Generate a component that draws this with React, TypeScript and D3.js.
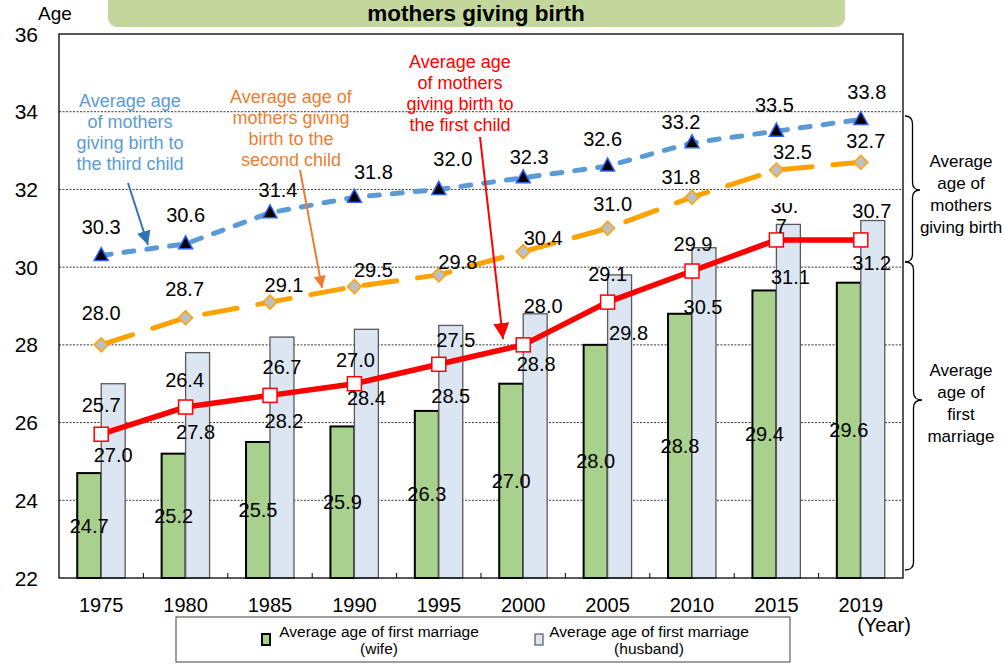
import React from "react";
import * as d3 from "d3";

const years = ["1975", "1980", "1985", "1990", "1995", "2000", "2005", "2010", "2015", "2019"];
const wifeMarriage = [24.7, 25.2, 25.5, 25.9, 26.3, 27.0, 28.0, 28.8, 29.4, 29.6];
const husbandMarriage = [27.0, 27.8, 28.2, 28.4, 28.5, 28.8, 29.8, 30.5, 31.1, 31.2];
const firstChild = [25.7, 26.4, 26.7, 27.0, 27.5, 28.0, 29.1, 29.9, 30.7, 30.7];
const secondChild = [28.0, 28.7, 29.1, 29.5, 29.8, 30.4, 31.0, 31.8, 32.5, 32.7];
const thirdChild = [30.3, 30.6, 31.4, 31.8, 32.0, 32.3, 32.6, 33.2, 33.5, 33.8];
const yTicks = [22, 24, 26, 28, 30, 32, 34, 36];

// label offsets (px) relative to their point
const firstOff = [[0, -29], [-1, -27], [12, -28], [1, -24], [17, -24], [20, -39], [0, -28], [1, -27], [8, -34], [11, -29]];
const husbandOff = [[0, 71], [-2, 79], [2, 84], [0, 69], [0, 71], [1, 50], [9, 58], [-1, 59], [2, 53], [-1, 42]];
const secondOff = [[0, -32], [-1, -29], [14, -17], [19, -17], [19, -13], [20, -14], [5, -24], [-11, -20], [16, -18], [5, -21]];
const thirdOff = [[0, -28], [0, -29], [8, -23], [19, -25], [14, -30], [6, -21], [-5, -27], [-11, -21], [-2, -26], [6, -27]];

const W = 1004, H = 664;
const M = { left: 59, right: 903, top: 34, bottom: 578 };
const FONT = "'Liberation Sans', Arial, sans-serif";

function brace(x0: number, y0: number, y1: number, tipY: number, w: number) {
  const xm = x0 + w / 2;
  const r = 8;
  return `M${x0},${y0} Q${xm},${y0} ${xm},${y0 + r} L${xm},${tipY - r} Q${xm},${tipY} ${x0 + w},${tipY} Q${xm},${tipY} ${xm},${tipY + r} L${xm},${y1 - r} Q${xm},${y1} ${x0},${y1}`;
}

export default function App() {
  const x = d3.scaleBand<string>().domain(years).range([M.left, M.right]).padding(0);
  const y = d3.scaleLinear().domain([22, 36]).range([M.bottom, M.top]);
  const bw = x.bandwidth();
  const barW = bw * 0.284;
  const cx = (i: number) => (x(years[i]) as number) + bw / 2;

  const line = d3
    .line<number>()
    .x((_, i) => cx(i))
    .y((d) => y(d));

  const LF = 20; // label font
  const base = 7; // glyph center -> baseline

  const label = (t: string, lx: number, ly: number, key: string) => (
    <text key={key} x={lx} y={ly + base} textAnchor="middle" fontSize={LF} fill="#000">
      {t}
    </text>
  );

  const tri = (px: number, py: number) => `M${px},${py - 8} L${px + 7},${py + 5} L${px - 7},${py + 5} Z`;
  const dia = (px: number, py: number) => `M${px},${py - 7} L${px + 7},${py} L${px},${py + 7} L${px - 7},${py} Z`;

  const ann = (lines: string[], cxp: number, y0: number, color: string, key: string, lh = 21, fs = 18) => (
    <text key={key} textAnchor="middle" fontSize={fs} fill={color}>
      {lines.map((l, i) => (
        <tspan key={i} x={cxp} y={y0 + i * lh + 6}>
          {l}
        </tspan>
      ))}
    </text>
  );

  return (
    <svg width={W} height={H} style={{ position: "absolute", left: 0, top: 0 }} fontFamily={FONT}>
      <defs>
        <marker id="ahBlue" viewBox="0 0 10 10" refX="10" refY="5" markerWidth="14" markerHeight="14" markerUnits="userSpaceOnUse" orient="auto">
          <path d="M0,0 L10,5 L0,10 Z" fill="#2e75b6" />
        </marker>
        <marker id="ahOrange" viewBox="0 0 10 10" refX="10" refY="5" markerWidth="15" markerHeight="12" markerUnits="userSpaceOnUse" orient="auto">
          <path d="M0,0 L10,5 L0,10 Z" fill="#ed7d31" />
        </marker>
        <marker id="ahRed" viewBox="0 0 10 10" refX="10" refY="5" markerWidth="16" markerHeight="16" markerUnits="userSpaceOnUse" orient="auto">
          <path d="M0,0 L10,5 L0,10 Z" fill="#ff0000" />
        </marker>
        <clipPath id="clip30">
          <rect x={740} y={203} width={80} height={30} />
        </clipPath>
      </defs>

      {/* title */}
      <rect x={108} y={-12} width={737} height={39} rx={9} fill="#c3d69b" />
      <text x={476} y={21} textAnchor="middle" fontSize={22.5} fontWeight="bold" fill="#000">
        mothers giving birth
      </text>
      <text x={38} y={20} fontSize={19} fill="#000">Age</text>

      {/* gridlines */}
      {yTicks.filter((t) => t > 22 && t < 36).map((t) => (
        <line key={t} x1={M.left} x2={M.right} y1={y(t)} y2={y(t)} stroke="#000" strokeWidth={0.8} strokeDasharray="2,1.5" />
      ))}

      {/* y tick labels */}
      {yTicks.map((t) => (
        <text key={t} x={38} y={y(t) + 7.5} textAnchor="end" fontSize={21} fill="#000">
          {t}
        </text>
      ))}

      {/* bars */}
      {wifeMarriage.map((v, i) => (
        <rect key={"w" + i} x={cx(i) - barW} y={y(v)} width={barW} height={y(22) - y(v)} fill="#a9d18e" stroke="#000" strokeWidth={2} />
      ))}
      {husbandMarriage.map((v, i) => (
        <rect key={"h" + i} x={cx(i)} y={y(v)} width={barW} height={y(22) - y(v)} fill="#dce6f2" stroke="#595959" strokeWidth={1.3} />
      ))}

      {/* plot border and ticks */}
      <rect x={M.left} y={M.top} width={M.right - M.left} height={M.bottom - M.top} fill="none" stroke="#000" strokeWidth={1.3} />
      {years.slice(1).map((yr) => (
        <line key={yr} x1={x(yr)} x2={x(yr)} y1={M.bottom} y2={M.bottom - 5} stroke="#000" strokeWidth={1} />
      ))}

      {/* x labels */}
      {years.map((yr, i) => (
        <text key={yr} x={cx(i)} y={612} textAnchor="middle" fontSize={20} fill="#000">
          {yr}
        </text>
      ))}
      <text x={884} y={632} textAnchor="middle" fontSize={20} fill="#000">(Year)</text>

      {/* lines */}
      <path d={line(thirdChild) as string} fill="none" stroke="#5b9bd5" strokeWidth={5} strokeDasharray="10 13" strokeLinecap="round" />
      <path d={line(secondChild) as string} fill="none" stroke="#ffa200" strokeWidth={5} strokeDasharray="33 21" strokeLinecap="round" />
      <path d={line(firstChild) as string} fill="none" stroke="#ff0000" strokeWidth={5.5} />

      {/* markers */}
      {thirdChild.map((v, i) => (
        <path key={"t" + i} d={tri(cx(i), y(v))} fill="#000" stroke="#2f5fff" strokeWidth={1.5} />
      ))}
      {secondChild.map((v, i) => (
        <path key={"s" + i} d={dia(cx(i), y(v))} fill="#bfbfbf" stroke="#ffa200" strokeWidth={1.5} />
      ))}
      {firstChild.map((v, i) => (
        <rect key={"f" + i} x={cx(i) - 7} y={y(v) - 7} width={14} height={14} fill="#fff" stroke="#ff0000" strokeWidth={1.5} />
      ))}

      {/* data labels */}
      {wifeMarriage.map((v, i) => label(v.toFixed(1), cx(i) - barW / 2, (y(v) + y(22)) / 2, "wl" + i))}
      {husbandMarriage.map((v, i) => label(v.toFixed(1), cx(i) + barW / 2 + husbandOff[i][0], y(v) + husbandOff[i][1], "hl" + i))}
      {secondChild.map((v, i) => label(v.toFixed(1), cx(i) + secondOff[i][0], y(v) + secondOff[i][1], "sl" + i))}
      {thirdChild.map((v, i) => label(v.toFixed(1), cx(i) + thirdOff[i][0], y(v) + thirdOff[i][1], "tl" + i))}
      {firstChild.map((v, i) => {
        const t = v.toFixed(1);
        if (i === 8) {
          const lx = cx(i) + firstOff[i][0];
          const ly = y(v) + firstOff[i][1];
          return (
            <g key={"fl" + i}>
              <text x={lx} y={ly + base} textAnchor="middle" fontSize={LF} clipPath="url(#clip30)">{t.slice(0, 3)}</text>
              <text x={lx - 3} y={ly + base + 20} textAnchor="middle" fontSize={LF}>{t.slice(3)}</text>
            </g>
          );
        }
        return label(t, cx(i) + firstOff[i][0], y(v) + firstOff[i][1], "fl" + i);
      })}

      {/* annotations */}
      {ann(["Average age", "of mothers", "giving birth to", "the third child"], 130, 101, "#5b9bd5", "a1")}
      <line x1={128} y1={183} x2={148} y2={245} stroke="#2e75b6" strokeWidth={2} markerEnd="url(#ahBlue)" />
      {ann(["Average age of", "mothers giving", "birth to the", "second child"], 291, 97, "#ed7d31", "a2")}
      <line x1={300} y1={170} x2={322} y2={288} stroke="#ed7d31" strokeWidth={2} markerEnd="url(#ahOrange)" />
      {ann(["Average age", "of mothers", "giving birth to", "the first child"], 460, 62, "#ff0000", "a3")}
      <line x1={480} y1={137} x2={503} y2={339} stroke="#ff0000" strokeWidth={2} markerEnd="url(#ahRed)" />

      {/* braces */}
      <path d={brace(905, 116, 262, 190, 15)} fill="none" stroke="#000" strokeWidth={1.3} />
      <path d={brace(905, 262, 570, 400, 17)} fill="none" stroke="#000" strokeWidth={1.3} />
      {ann(["Average", "age of", "mothers", "giving birth"], 961, 161, "#000", "b1", 22, 17)}
      {ann(["Average", "age of", "first", "marriage"], 961, 370, "#000", "b2", 22, 17)}

      {/* legend */}
      <rect x={176} y={617} width={614} height={45} fill="#fff" stroke="#404040" strokeWidth={1} />
      <rect x={262} y={634} width={8} height={11} fill="#a9d18e" stroke="#000" strokeWidth={2} />
      <text fontSize={15.5} fill="#000" textAnchor="middle">
        <tspan x={379} y={637}>Average age of first marriage</tspan>
        <tspan x={379} y={654}>(wife)</tspan>
      </text>
      <rect x={535} y={634} width={8} height={11} fill="#dce6f2" stroke="#595959" strokeWidth={1.2} />
      <text fontSize={15.5} fill="#000" textAnchor="middle">
        <tspan x={649} y={637}>Average age of first marriage</tspan>
        <tspan x={649} y={654}>(husband)</tspan>
      </text>
    </svg>
  );
}
